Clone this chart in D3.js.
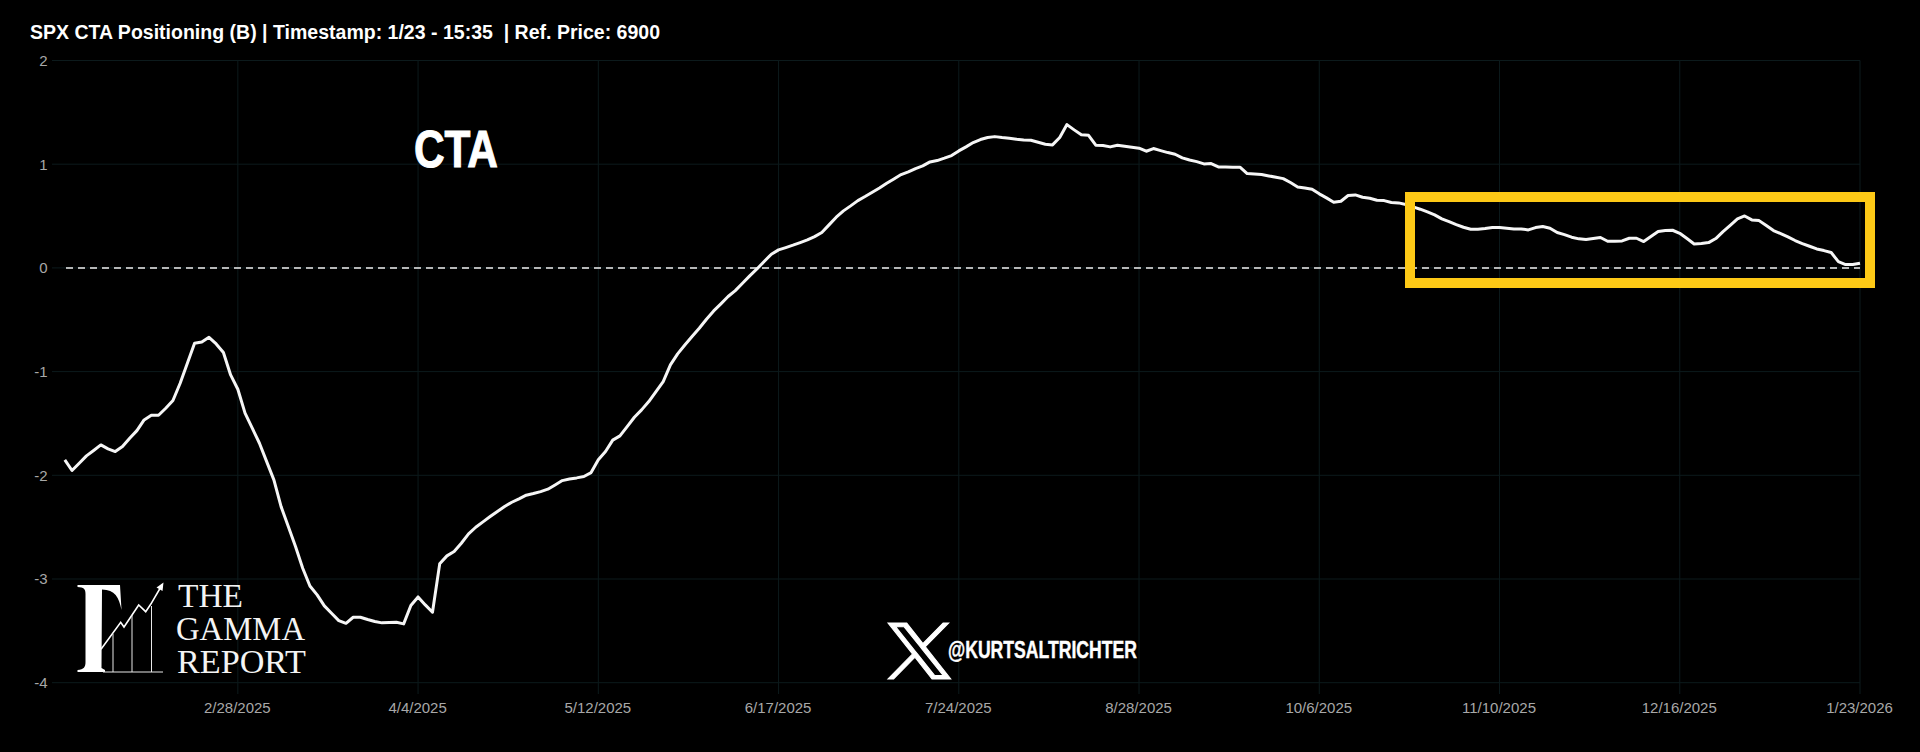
<!DOCTYPE html>
<html>
<head>
<meta charset="utf-8">
<script src="https://cdn.jsdelivr.net/npm/d3@7"></script>
<style>
html,body{margin:0;padding:0;background:#000;overflow:hidden}
svg{display:block}
text{white-space:pre}
</style>
</head>
<body>
<svg id="chart" width="1920" height="752"></svg>
<script>
const titleText = "SPX CTA Positioning (B) | Timestamp: 1/23 - 15:35  | Ref. Price: 6900";
const yTicks = [2, 1, 0, -1, -2, -3, -4];
const xTickIndex = [24, 49, 74, 99, 124, 149, 174, 199, 224, 249];
const xTickLabels = ["2/28/2025","4/4/2025","5/12/2025","6/17/2025","7/24/2025","8/28/2025","10/6/2025","11/10/2025","12/16/2025","1/23/2026"];
const ctaValues = [
-1.851,-1.954,-1.884,-1.813,-1.761,-1.707,-1.745,-1.771,-1.723,-1.643,
-1.569,-1.466,-1.421,-1.421,-1.353,-1.279,-1.112,-0.919,-0.726,-0.714,
-0.669,-0.733,-0.816,-1.032,-1.170,-1.401,-1.546,-1.691,-1.868,-2.044,
-2.302,-2.494,-2.687,-2.896,-3.067,-3.153,-3.259,-3.330,-3.401,-3.427,
-3.369,-3.369,-3.391,-3.410,-3.423,-3.420,-3.417,-3.433,-3.256,-3.173,
-3.250,-3.320,-2.854,-2.777,-2.735,-2.655,-2.565,-2.501,-2.449,-2.398,
-2.349,-2.301,-2.260,-2.227,-2.192,-2.176,-2.157,-2.134,-2.093,-2.051,
-2.035,-2.025,-2.012,-1.974,-1.851,-1.771,-1.661,-1.620,-1.530,-1.440,
-1.369,-1.289,-1.193,-1.096,-0.935,-0.829,-0.743,-0.662,-0.582,-0.495,
-0.415,-0.347,-0.276,-0.219,-0.148,-0.077,-0.010,0.061,0.132,0.174,
0.196,0.219,0.244,0.270,0.302,0.341,0.415,0.489,0.550,0.598,
0.649,0.688,0.730,0.771,0.816,0.858,0.900,0.926,0.958,0.984,
1.022,1.035,1.058,1.083,1.128,1.167,1.209,1.238,1.257,1.266,
1.257,1.250,1.241,1.234,1.231,1.212,1.193,1.186,1.257,1.382,
1.331,1.283,1.279,1.183,1.180,1.167,1.183,1.173,1.164,1.154,
1.125,1.151,1.131,1.112,1.096,1.061,1.041,1.025,1.003,1.006,
0.974,0.974,0.971,0.971,0.910,0.906,0.900,0.887,0.874,0.861,
0.823,0.781,0.771,0.759,0.714,0.675,0.633,0.643,0.698,0.704,
0.681,0.672,0.653,0.649,0.630,0.627,0.611,0.588,0.566,0.540,
0.511,0.473,0.447,0.418,0.392,0.373,0.373,0.379,0.389,0.389,
0.383,0.376,0.376,0.366,0.389,0.399,0.383,0.341,0.321,0.296,
0.280,0.273,0.283,0.293,0.257,0.257,0.260,0.286,0.286,0.254,
0.302,0.350,0.360,0.363,0.334,0.283,0.231,0.235,0.244,0.283,
0.350,0.411,0.473,0.501,0.463,0.456,0.408,0.360,0.331,0.299,
0.264,0.235,0.209,0.183,0.167,0.148,0.061,0.032,0.032,0.045
];
const logoWords = ["THE","GAMMA","REPORT"];
const handle = "@KURTSALTRICHTER";
const annotation = "CTA";

const svg = d3.select("#chart");
svg.append("rect").attr("width",1920).attr("height",752).attr("fill","#000");

const x = d3.scaleLinear().domain([0, ctaValues.length - 1]).range([64.8, 1860]);
const y = d3.scaleLinear().domain([-4, 2]).range([682.7, 60.5]);

const gridColor = "#0c1a1c";
const labelColor = "#a8a8a8";
const font = "'Liberation Sans', Arial, sans-serif";

// y axis with gridlines
const yAxis = d3.axisLeft(y).tickValues(yTicks).tickSize(0).tickPadding(0).tickFormat(d => d3.format("d")(d).replace("−","-"));
const gy = svg.append("g").attr("transform","translate(47.5,0)").call(yAxis);
gy.select(".domain").remove();
gy.selectAll("text").attr("fill",labelColor).attr("font-family",font).attr("font-size",15).attr("x",0);
svg.append("g").selectAll("line").data(yTicks).join("line")
  .attr("x1",52).attr("x2",x.range()[1])
  .attr("y1",d=>y(d)).attr("y2",d=>y(d))
  .attr("stroke",gridColor).attr("stroke-width",1);

// x axis with gridlines
const xAxis = d3.axisBottom(x).tickValues(xTickIndex).tickSize(0).tickPadding(0).tickFormat((d,i)=>xTickLabels[i]);
const gx = svg.append("g").attr("transform","translate(-1,713)").call(xAxis);
gx.select(".domain").remove();
gx.selectAll("text").attr("fill",labelColor).attr("font-family",font).attr("font-size",15).attr("y",0).attr("dy",0);
svg.append("g").selectAll("line").data(xTickIndex).join("line")
  .attr("x1",d=>x(d)).attr("x2",d=>x(d))
  .attr("y1",y(2)).attr("y2",694)
  .attr("stroke",gridColor).attr("stroke-width",1);

// zero line
svg.append("line")
  .attr("x1",66).attr("x2",x(ctaValues.length-1))
  .attr("y1",y(0)).attr("y2",y(0))
  .attr("stroke","#f0f0f0").attr("stroke-width",1.5).attr("stroke-dasharray","7,5");

// CTA line
const line = d3.line().x((d,i)=>x(i)).y(d=>y(d));
svg.append("path").datum(ctaValues)
  .attr("d",line).attr("fill","none")
  .attr("stroke","#f6f6f6").attr("stroke-width",3).attr("stroke-linejoin","round");

// highlight box
svg.append("rect").attr("x",1410).attr("y",197).attr("width",460).attr("height",86)
  .attr("fill","none").attr("stroke","#fdc916").attr("stroke-width",10);

// title
svg.append("text").attr("x",30).attr("y",39).text(titleText)
  .attr("fill","#fff").attr("font-family",font).attr("font-weight",700).attr("font-size",20)
  .attr("textLength",630).attr("lengthAdjust","spacingAndGlyphs");

// CTA annotation
svg.append("text").attr("x",414).attr("y",167).text(annotation)
  .attr("fill","#fff").attr("stroke","#fff").attr("stroke-width",1)
  .attr("font-family",font).attr("font-weight",700).attr("font-size",52)
  .attr("textLength",84).attr("lengthAdjust","spacingAndGlyphs");

// handle + X mark
svg.append("path")
  .attr("d","M714.163 519.284L1160.89 0H1055.03L667.137 450.887L357.328 0H0L468.492 679.821L0 1226.37H105.866L515.491 750.218L842.672 1226.37H1200L714.137 519.284H714.163ZM569.165 687.828L521.697 619.934L144.011 79.6944H306.615L611.412 515.685L658.88 583.579L1055.08 1150.3H892.476L569.165 687.854V687.828Z")
  .attr("transform","translate(888,623) scale(0.0523,0.0456)")
  .attr("fill","#fff").attr("stroke","#fff").attr("stroke-width",22);
svg.append("text").attr("x",948).attr("y",658).text(handle)
  .attr("fill","#fff").attr("stroke","#fff").attr("stroke-width",0.4)
  .attr("font-family",font).attr("font-weight",700).attr("font-size",23)
  .attr("textLength",189).attr("lengthAdjust","spacingAndGlyphs");

// Gamma Report logo
const logo = svg.append("g");
logo.append("path")
  .attr("d","M77.5,585 L120,585 L121.5,610 C119,597 115,590 102,589.5 L101.5,668 L105,670 L105,672 L77.5,672 L77.5,670 C84,669.5 85.5,667 85.5,662 L85.5,594 C85.5,589 84,587.5 77.5,587 Z")
  .attr("fill","#fff");
logo.append("path")
  .attr("d","M101,649.3 L120.7,622.3 L124,627 L138.7,605 L145.7,611.7 L150.7,604.3 L162,585")
  .attr("fill","none").attr("stroke","#fff").attr("stroke-width",1.6);
logo.append("path").attr("d","M163.5,582.5 L162.5,591 L156.5,587.5 Z").attr("fill","#fff");
logo.append("path")
  .attr("d","M113,634 V672 M132,615 V672 M151.5,606 V672 M103,672 H163")
  .attr("fill","none").attr("stroke","#e8e8e8").attr("stroke-width",1);
const logoBaselines = [607, 640, 673];
logo.selectAll("text").data(logoWords).join("text")
  .attr("x",(d,i)=>[178,176,177][i]).attr("y",(d,i)=>logoBaselines[i])
  .text(d=>d).attr("fill","#f4f4f4").attr("font-family","'Liberation Serif', 'Times New Roman', serif")
  .attr("font-size",33)
  .attr("textLength",(d,i)=>[65,129,129][i]).attr("lengthAdjust","spacingAndGlyphs");
</script>
</body>
</html>
